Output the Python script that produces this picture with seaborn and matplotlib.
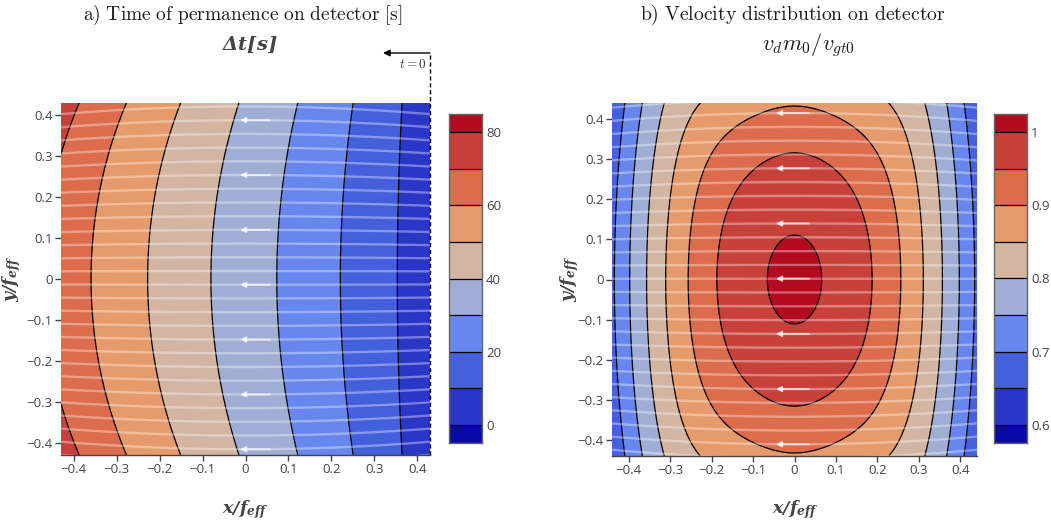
import numpy as np
import pandas as pd
import matplotlib
matplotlib.use("Agg")
import matplotlib.pyplot as plt
import seaborn as sns

# ---- band colours shared by both maps (lowest band -> highest band) ----
band_colors = ["#0a0aa8", "#2a36c6", "#4460dc", "#6787ef", "#a0aed6",
               "#d3b5a1", "#e69b6c", "#dc6c4b", "#c8403a", "#b30a1f"]

# ---- a) time of permanence ----
t_levels = [0, 10, 20, 30, 40, 50, 60, 70, 80]
t_ticks = [0, 20, 40, 60, 80]
t_ticklabels = ["0", "20", "40", "60", "80"]
t_scale = 65.4          # seconds per unit of ∫dx/v
t_offset = 3.4          # time already elapsed at the entry edge
t_k_y = 0.56            # transverse slow-down used in the transit integral
x_entry = 0.43          # entry edge (t = 0 side)

# ---- b) velocity ratio ----
v_levels = [0.6, 0.65, 0.7, 0.75, 0.8, 0.85, 0.9, 0.95, 1.0]
v_ticks = [0.6, 0.7, 0.8, 0.9, 1.0]
v_ticklabels = ["0.6", "0.7", "0.8", "0.9", "1"]
v_peak = 1.007
v_k_x = 1.628
v_k_y = 0.572
v_fade_floor = 0.30     # share of the transverse term kept far off-axis
v_fade_width = 0.26     # x over which the transverse term fades
v_fade_power = 3

# ---- axes ----
axis_ticks = [-0.4, -0.3, -0.2, -0.1, 0.0, 0.1, 0.2, 0.3, 0.4]
axis_ticklabels = ["\u22120.4", "\u22120.3", "\u22120.2", "\u22120.1", "0",
                   "0.1", "0.2", "0.3", "0.4"]
half_a = 0.43
half_b = 0.44

# ---- trajectories drawn over the maps ----
stream_bend = 0.24
stream_step_a, stream_offset_a = 0.0335, -0.014
stream_step_b, stream_offset_b = 0.0344, 0.002
arrow_tail_a, arrow_head_a = 0.057, -0.013
arrow_tail_b, arrow_head_b = 0.035, -0.045

sns.set_theme(style="white")
plt.rcParams["font.family"] = ["Open Sans", "DejaVu Sans"]
plt.rcParams["mathtext.fontset"] = "cm"

fig = plt.figure(figsize=(10.51, 5.24), dpi=100)
W, H = 1051, 524


def box(l, t, r, b):
    return [l / W, 1 - b / H, (r - l) / W, (b - t) / H]


ax_a = fig.add_axes(box(61, 103, 430, 455))
ax_b = fig.add_axes(box(612, 103, 977, 456))
cax_a = fig.add_axes(box(449, 114, 482, 443))
cax_b = fig.add_axes(box(994, 114, 1027, 443))

# ---- fields ----
xa = np.linspace(-half_a, half_a, 431)
ya = np.linspace(-half_a, half_a, 431)
XA, YA = np.meshgrid(xa, ya)
speed_t = v_peak - v_k_x * XA ** 2 - t_k_y * YA ** 2
inv = 1.0 / speed_t
dx = xa[1] - xa[0]
seg = 0.5 * (inv[:, 1:] + inv[:, :-1]) * dx
remaining = np.zeros_like(inv)
remaining[:, :-1] = np.cumsum(seg[:, ::-1], axis=1)[:, ::-1]
remaining += (x_entry - xa[-1]) * inv[:, -1:]
T = t_scale * remaining + t_offset

xb = np.linspace(-half_b, half_b, 441)
yb = np.linspace(-half_b, half_b, 441)
XB, YB = np.meshgrid(xb, yb)
fade = v_fade_floor + (1 - v_fade_floor) * np.exp(
    -(np.abs(XB) / v_fade_width) ** v_fade_power)
V = v_peak - v_k_x * XB ** 2 - v_k_y * YB ** 2 * fade


def draw_map(ax, X, Y, Z, levels, half, step, offset, tail, head):
    big = 1e6
    ax.contourf(X, Y, Z, levels=[-big] + levels + [big], colors=band_colors)
    ax.contour(X, Y, Z, levels=levels, colors="black", linewidths=0.9)
    xs = np.linspace(-half, half, 120)
    rows = []
    for k in range(-16, 17):
        y0 = offset + k * step
        for xv in xs:
            rows.append({"line": k, "x": xv, "y": y0 * (1 - stream_bend * xv ** 2)})
    df = pd.DataFrame(rows)
    sns.lineplot(data=df, x="x", y="y", units="line", estimator=None, sort=False,
                 color="white", alpha=0.36, linewidth=1.7, ax=ax, legend=False)
    for k in range(-16, 17, 4):
        y0 = offset + k * step
        if abs(y0) > half:
            continue
        ax.annotate("", xy=(head, y0), xytext=(tail, y0),
                    arrowprops=dict(arrowstyle="-|>", color="white", alpha=0.7,
                                    lw=1.3, mutation_scale=8, shrinkA=0, shrinkB=0))
    ax.set_xlim(-half, half)
    ax.set_ylim(-half, half)
    ax.set_xticks(axis_ticks)
    ax.set_xticklabels(axis_ticklabels)
    ax.set_yticks(axis_ticks)
    ax.set_yticklabels(axis_ticklabels)
    ax.set_xlabel("")
    ax.set_ylabel("")
    ax.tick_params(axis="both", which="both", direction="out", length=4,
                   width=1, color="#444444", labelcolor="#444444",
                   labelsize=9.5, pad=2, bottom=True, left=True)
    for s in ("top", "right", "left"):
        ax.spines[s].set_visible(False)
    ax.spines["bottom"].set_visible(True)
    ax.spines["bottom"].set_color("#444444")
    ax.spines["bottom"].set_linewidth(1)


draw_map(ax_a, XA, YA, T, t_levels, half_a, stream_step_a, stream_offset_a,
         arrow_tail_a, arrow_head_a)
draw_map(ax_b, XB, YB, V, v_levels, half_b, stream_step_b, stream_offset_b,
         arrow_tail_b, arrow_head_b)


def draw_bar(cax, levels, ticks, labels):
    step = levels[1] - levels[0]
    bounds = [levels[0] - step / 2] + levels + [levels[-1] + step / 2]
    for i, c in enumerate(band_colors):
        cax.axhspan(bounds[i], bounds[i + 1], color=c, lw=0)
    for lv in levels:
        cax.axhline(lv, color="black", lw=0.9)
    cax.set_ylim(bounds[0], bounds[-1])
    cax.set_xlim(0, 1)
    cax.set_xticks([])
    cax.yaxis.tick_right()
    cax.set_yticks(ticks)
    cax.set_yticklabels(labels)
    cax.tick_params(axis="y", length=0, pad=3, labelsize=9.5, labelcolor="#444444")
    for s in cax.spines.values():
        s.set_visible(True)
        s.set_color("#666666")
        s.set_linewidth(1)


draw_bar(cax_a, t_levels, t_ticks, t_ticklabels)
draw_bar(cax_b, v_levels, v_ticks, v_ticklabels)

# ---- titles ----
fig.text(243 / W, 1 - 15 / H,
         r"$\mathrm{a)\ Time\ of\ permanence\ on\ detector\ [s]}$",
         ha="center", va="center", fontsize=14, color="#1a1a1a")
fig.text(793 / W, 1 - 15 / H,
         r"$\mathrm{b)\ Velocity\ distribution\ on\ detector}$",
         ha="center", va="center", fontsize=14.2, color="#1a1a1a")
fig.text(250 / W, 1 - 45 / H, r"$\mathbfit{\Delta t[s]}$",
         ha="center", va="center", fontsize=14, color="#444444",
         math_fontfamily="dejavuserif")
fig.text(808 / W, 1 - 45 / H, r"$v_d m_0/v_{gt0}$",
         ha="center", va="center", fontsize=16, color="#1a1a1a")

# ---- axis labels ----
for cx in (245, 795):
    fig.text(cx / W, 1 - 510 / H, r"$\mathbfit{x/f_{eff}}$", ha="center",
             va="center", fontsize=12.5, color="#444444",
             math_fontfamily="dejavuserif")
for cx in (12, 570):
    fig.text(cx / W, 1 - 279 / H, r"$\mathbfit{y/f_{eff}}$", ha="center",
             va="center", fontsize=12.5, color="#444444", rotation=90,
             math_fontfamily="dejavuserif")

# ---- entry edge marker on panel a ----
ax_a.plot([1.0, 1.0], [0.0, 1 + 50 / 352], transform=ax_a.transAxes,
          color="black", lw=1, ls=(0, (3, 2)), clip_on=False)
ax_a.annotate("", xy=((383 - 61) / 369, 1 + 50 / 352),
              xytext=(1.0, 1 + 50 / 352), xycoords="axes fraction",
              textcoords="axes fraction",
              arrowprops=dict(arrowstyle="-|>", color="black", lw=1,
                              mutation_scale=10, shrinkA=0, shrinkB=0))
ax_a.text(0.99, 1 + 38 / 352, r"$t=0$", transform=ax_a.transAxes,
          ha="right", va="center", fontsize=9.5, color="#333333")

fig.savefig("out.png", dpi=100)
